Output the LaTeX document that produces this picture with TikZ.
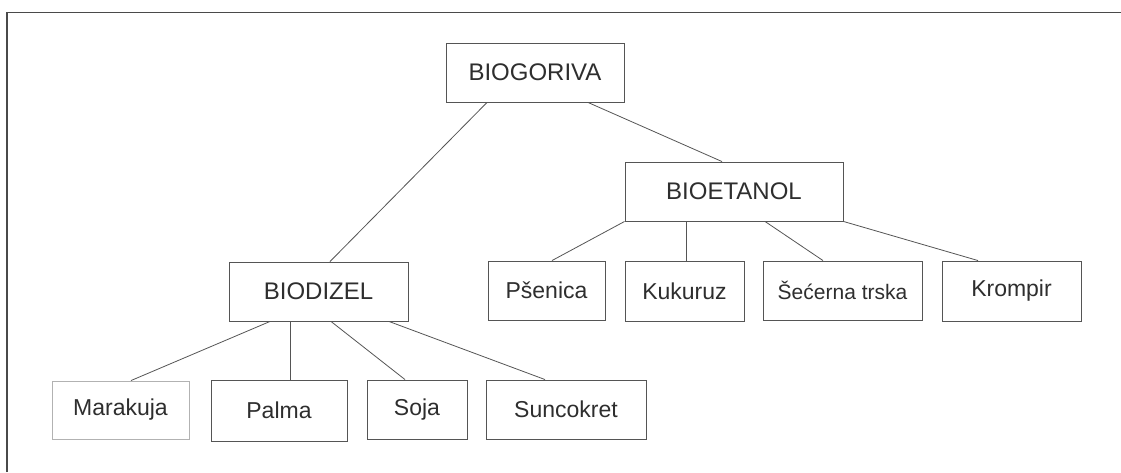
\documentclass[tikz,border=0pt]{standalone}
\usepackage{fontspec}
\setmainfont{Liberation Sans}
\usetikzlibrary{calc}
\definecolor{txt}{HTML}{2E2E2E}
\definecolor{edge}{HTML}{555555}
\definecolor{frame}{HTML}{4A4A4A}
\begin{document}
\begin{tikzpicture}[x=1pt,y=-1pt,
  box/.style={draw=edge, line width=0.9pt, rectangle, inner sep=0pt, text=txt,
    font=\fontsize{23}{28}\selectfont},
  capbox/.style={box, font=\fontsize{24}{29}\selectfont},
  conn/.style={draw=edge, line width=0.8pt}]
\useasboundingbox (0,0) rectangle (1121,472);
\fill[white] (0,0) rectangle (1121,472);
\draw[frame, line width=1.2pt] (7,472) -- (7,12.5) -- (1121,12.5);

\node[capbox, minimum width=178pt, minimum height=59pt] (bg) at (535,72.5) {BIOGORIVA};
\node[capbox, minimum width=218pt, minimum height=59pt] (be) at (734,191.5) {BIOETANOL};
\node[capbox, minimum width=179pt, minimum height=59pt] (bd) at (318.5,291.5) {BIODIZEL};

\node[box, draw=black!30, minimum width=137pt, minimum height=58pt] (ma) at (120.5,410) {Marakuja};
\node[box, minimum width=136pt, minimum height=61pt] (pa) at (279,410.5) {Palma};
\node[box, minimum width=100pt, minimum height=59pt] (so) at (417,409.5) {Soja};
\node[box, minimum width=160pt, minimum height=59pt] (su) at (566,409.5) {Suncokret};

\node[box, minimum width=117pt, minimum height=59pt] (ps) at (546.5,290.5) {Pšenica};
\node[box, minimum width=119pt, minimum height=60pt] (ku) at (684.5,291) {Kukuruz};
\node[box, minimum width=159pt, minimum height=59pt, font=\fontsize{21}{25}\selectfont] (se) at (842.5,290.5) {Šećerna trska};
\node[box, minimum width=139pt, minimum height=60pt] (kr) at (1011.5,291) {Krompir};

\draw[conn] ($(bg.south)+(-48,0)$) -- ($(bd.north)+(11.5,0)$);
\draw[conn] ($(bg.south)+(53,0)$) -- ($(be.north)+(-12,0)$);

\draw[conn] (be.south west) -- ($(ps.north)+(5.5,0)$);
\draw[conn] ($(be.south)+(-48,0)$) -- ($(ku.north)+(1.5,0)$);
\draw[conn] ($(be.south)+(31,0)$) -- ($(se.north)+(-19.5,0)$);
\draw[conn] (be.south east) -- ($(kr.north)+(-33.5,0)$);

\draw[conn] ($(bd.south)+(-48.5,0)$) -- ($(ma.north)+(10.5,0)$);
\draw[conn] ($(bd.south)+(-28.5,0)$) -- ($(pa.north)+(11,0)$);
\draw[conn] ($(bd.south)+(12.5,0)$) -- ($(so.north)+(-12,0)$);
\draw[conn] ($(bd.south)+(70.5,0)$) -- ($(su.north)+(-21,0)$);
\end{tikzpicture}
\end{document}
